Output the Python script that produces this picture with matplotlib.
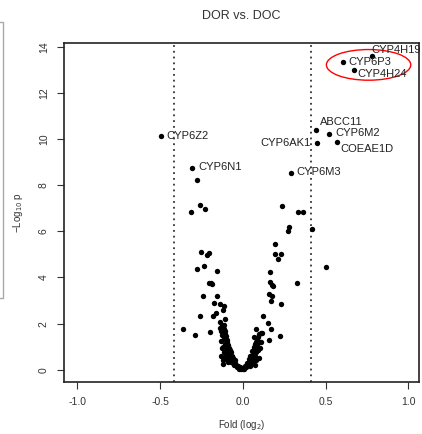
import numpy as np
import matplotlib
matplotlib.use("Agg")
import matplotlib.pyplot as plt
from matplotlib.patches import Ellipse
from matplotlib.lines import Line2D

plt.rcParams['font.family'] = ['Liberation Sans', 'DejaVu Sans']

# labelled genes
genes = ["CYP4H19", "CYP6P3", "CYP4H24", "ABCC11", "CYP6M2",
         "CYP6AK1", "COEAE1D", "CYP6Z2", "CYP6N1", "CYP6M3"]
gene_fold = [0.778, 0.606, 0.669, 0.442, 0.521, 0.448, 0.568, -0.497, -0.309, 0.289]
gene_logp = [13.62, 13.36, 12.99, 10.40, 10.24, 9.81, 9.86, 10.12, 8.76, 8.52]

# all other genes
fold = [
    -0.275, -0.259, -0.228, -0.311, 0.236, 0.331, 0.364, 0.281, 0.275, 0.416,
    0.196, -0.251, -0.204, -0.214, 0.192, 0.232, 0.212, 0.505, -0.279, -0.234,
    -0.154, 0.164, -0.204, -0.194, 0.325, 0.166, 0.176, 0.184, -0.242, -0.155,
    0.156, 0.176, 0.170, -0.176, -0.135, -0.115, -0.120, -0.160, 0.228, -0.256,
    -0.180, 0.124, -0.362, -0.287, -0.200, 0.152, 0.168, 0.224, 0.077, 0.117,
    0.158, 0.107, 0.097, 0.087, -0.188,
    -0.135, -0.128, -0.120, -0.132, -0.118, -0.110, -0.125, -0.115, -0.105, -0.100,
    -0.095, -0.108, -0.090, -0.120, -0.085, -0.100, -0.078, -0.115, -0.070, -0.090,
    -0.065, -0.105, -0.060, -0.080, -0.050, -0.070, -0.045, -0.040, -0.055, -0.030,
    -0.035, -0.020, -0.010, -0.025, -0.015, -0.120, -0.130, -0.130, -0.140, -0.110,
    -0.115, -0.105, -0.095, -0.120,
    0.005, 0.010, 0.020, 0.015, 0.030, 0.025, 0.040, 0.035, 0.050, 0.045,
    0.060, 0.055, 0.065, 0.070, 0.075, 0.080, 0.085, 0.090, 0.065, 0.078,
    0.090, 0.100, 0.080, 0.060, 0.075, 0.095, 0.110, 0.070, 0.000, -0.005,
    -0.112, -0.098, -0.088, -0.075, -0.062, -0.125, -0.108, -0.092, 0.045, 0.058,
    0.072, 0.088, 0.102,
]
logp = [
    8.24, 7.16, 6.99, 6.83, 7.10, 6.83, 6.83, 6.19, 6.00, 6.10,
    5.44, 5.12, 5.06, 4.98, 5.00, 5.03, 4.79, 4.45, 4.37, 4.48,
    4.28, 4.25, 3.76, 3.75, 3.75, 3.79, 3.67, 3.62, 3.18, 3.18,
    3.27, 3.18, 2.98, 2.89, 2.85, 2.75, 2.60, 2.46, 2.85, 2.34,
    2.34, 2.31, 1.78, 1.52, 1.62, 2.02, 1.76, 1.47, 1.77, 1.59,
    1.30, 1.21, 0.51, 0.87, 3.73,
    2.05, 1.95, 1.85, 1.70, 1.62, 1.55, 1.50, 1.40, 1.35, 1.45,
    1.20, 1.10, 1.05, 1.00, 0.95, 0.90, 0.85, 0.75, 0.75, 0.70,
    0.60, 0.55, 0.50, 0.45, 0.40, 0.35, 0.30, 0.22, 0.20, 0.15,
    0.10, 0.08, 0.04, 0.05, 0.12, 0.25, 0.60, 1.25, 1.80, 2.20,
    1.95, 1.70, 0.65, 0.40,
    0.03, 0.08, 0.10, 0.18, 0.20, 0.30, 0.35, 0.45, 0.50, 0.60,
    0.65, 0.80, 0.90, 1.00, 1.10, 1.20, 1.30, 1.40, 0.55, 0.75,
    0.85, 1.55, 0.40, 0.30, 0.20, 1.20, 1.60, 1.40, 0.02, 0.06,
    1.75, 1.30, 0.80, 0.55, 0.28, 0.95, 0.45, 0.35, 0.15, 0.40,
    0.60, 1.05, 0.95,
]

cutoff = 0.415
xticks = [-1.0, -0.5, 0.0, 0.5, 1.0]
yticks = [0, 2, 4, 6, 8, 10, 12, 14]

# label offsets in pixels (dx, dy, ha)
offsets = {
    "CYP4H19": (0, 6, "left"), "CYP6P3": (5, 0, "left"), "CYP4H24": (4, -4, "left"),
    "ABCC11": (4, 8, "left"), "CYP6M2": (6, 1, "left"), "CYP6AK1": (-6, 0, "right"),
    "COEAE1D": (4, -7, "left"), "CYP6Z2": (6, 0, "left"), "CYP6N1": (7, 1, "left"),
    "CYP6M3": (6, 1, "left"),
}

fig = plt.figure(figsize=(4.22, 4.34), dpi=100)
ax = fig.add_axes([0.152, 0.12, 0.841, 0.781])

ax.scatter(fold, logp, s=15, color="black", linewidths=0, zorder=3)
ax.scatter(gene_fold, gene_logp, s=15, color="black", linewidths=0, zorder=3)

for g, x, y in zip(genes, gene_fold, gene_logp):
    dx, dy, ha = offsets[g]
    ax.annotate(g, (x, y), xytext=(dx, dy), textcoords="offset pixels",
                ha=ha, va="center", fontsize=8, color="#222222")

ax.axvline(-cutoff, color="#333333", linestyle=(0, (1, 2.2)), lw=1.3)
ax.axvline(cutoff, color="#333333", linestyle=(0, (1, 2.2)), lw=1.3)

ax.add_patch(Ellipse((0.76, 13.22), 0.51, 1.33, fill=False, edgecolor="red", lw=1))

ax.set_xlim(-1.08, 1.065)
ax.set_ylim(-0.53, 14.17)
ax.set_xticks(xticks)
ax.set_xticklabels([f"{t:.1f}" for t in xticks])
ax.set_yticks(yticks)
ax.set_yticklabels([str(t) for t in yticks], rotation=90, va="center")
ax.tick_params(direction="out", length=5, width=0.8, labelsize=7.5,
               colors="#333333", pad=6)
for sp in ax.spines.values():
    sp.set_linewidth(1.2)
    sp.set_color("#222222")

ax.set_title("DOR vs. DOC", fontsize=9, color="#333333", pad=17)
ax.set_xlabel("Fold (log$_2$)", fontsize=7, color="#333333", labelpad=8)
ax.set_ylabel("\u2212Log$_{10}$ p", fontsize=7, color="#333333", labelpad=10)

# grey edge of neighbouring panel
fig.add_artist(Line2D([0.0, 0.008, 0.008, 0.0], [0.95, 0.95, 0.313, 0.313],
                      transform=fig.transFigure, color="#aaaaaa", lw=1))

fig.savefig("out.png", dpi=100)
